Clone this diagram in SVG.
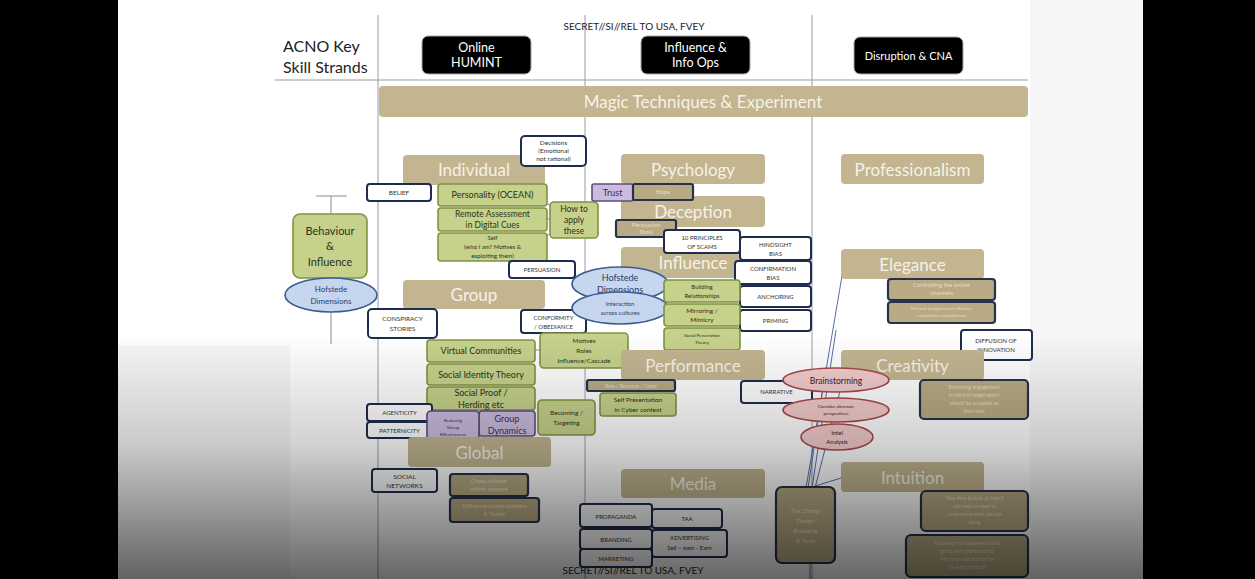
<svg xmlns="http://www.w3.org/2000/svg" width="1255" height="579" viewBox="0 0 1255 579">
<defs>
<linearGradient id="shade" x1="0" y1="335" x2="0" y2="579" gradientUnits="userSpaceOnUse">
<stop offset="0" stop-color="#000" stop-opacity="0"/>
<stop offset="0.45" stop-color="#000" stop-opacity="0.18"/>
<stop offset="1" stop-color="#000" stop-opacity="0.6"/>
</linearGradient>
<style>
text{font-family:Lato,"Liberation Sans",sans-serif;text-anchor:middle;fill:#1c2433}
.hdr rect{fill:#000;stroke:#aaa;stroke-width:1}
.hdr text{fill:#fff;font-size:12.5px}
.tan rect{fill:#c2b590;stroke:none}
.tan text{fill:#f6f2e6;font-size:17px}
.tb rect{fill:#b8aa84;stroke:#26324a;stroke-width:2.2}
.tb text{fill:#e6dcc2;font-size:6px}
.wb rect{fill:#fff;stroke:#1e2d4d;stroke-width:2}
.wb text{font-size:6.5px;fill:#333}
.gb rect{fill:#c6d18c;stroke:#7f9340;stroke-width:1.6}
.gb text{font-size:9px;fill:#2a3318}
.pb rect{fill:#cbbcdf;stroke:#5e4d80;stroke-width:1.6}
.pb text{font-size:9px;fill:#3a2d55}
.be ellipse{fill:#c6d6ef;stroke:#3c5c90;stroke-width:1.6}
.be text{font-size:9px;fill:#2b3c66}
.pe ellipse{fill:#f2cbcb;stroke:#a84848;stroke-width:1.6}
.pe text{font-size:8px;fill:#3a1c1c}
.grid line{stroke:#9a9ab0;stroke-width:1}
.conn line{stroke:#8c8c8c;stroke-width:1}
.conn .bl{stroke:#5a6ea8}
</style>
</defs>
<rect x="0" y="0" width="1255" height="579" fill="#000"/>
<rect x="118" y="0" width="1025" height="579" fill="#f6f6f6"/>
<rect x="118" y="0" width="912" height="345" fill="#fff"/>
<rect x="290" y="0" width="740" height="579" fill="#fff"/>

<g id="grid" class="grid">
<line x1="378" y1="15" x2="378" y2="579"/>
<line x1="585" y1="15" x2="585" y2="579"/>
<line x1="812" y1="15" x2="812" y2="579"/>
<line x1="275" y1="80" x2="1028" y2="80"/>
</g>
<text x="634" y="30" style="font-size:10px;fill:#222">SECRET//SI//REL TO USA, FVEY</text>
<text x="283" y="52" style="font-size:16px;text-anchor:start;fill:#222">ACNO Key</text>
<text x="283" y="73" style="font-size:16px;text-anchor:start;fill:#222">Skill Strands</text>

<g id="h-humint" class="hdr"><rect x="422" y="36" width="109" height="38" rx="6"/><text x="476.5" y="52">Online</text><text x="476.5" y="67">HUMINT</text></g>
<g id="h-influence" class="hdr"><rect x="641" y="36" width="109" height="38" rx="6"/><text x="695.5" y="52">Influence &amp;</text><text x="695.5" y="67">Info Ops</text></g>
<g id="h-disruption" class="hdr"><rect x="854" y="37" width="109" height="37" rx="6"/><text x="908.5" y="60" style="font-size:11px">Disruption &amp; CNA</text></g>

<g id="magic" class="tan"><rect x="379" y="86" width="649" height="31" rx="4"/><text x="703" y="108">Magic Techniques &amp; Experiment</text></g>

<g id="conn" class="conn">
<line x1="316" y1="196" x2="347" y2="196"/>
<line x1="331" y1="196" x2="331" y2="214"/>
<line x1="331" y1="312" x2="331" y2="344"/>
<line x1="540" y1="200" x2="556" y2="208"/>
<line x1="540" y1="219" x2="556" y2="219"/>
<line x1="540" y1="240" x2="556" y2="230"/>
<line x1="520" y1="350" x2="548" y2="350"/>
<line class="bl" x1="843" y1="270" x2="806" y2="488"/>
<line class="bl" x1="836" y1="330" x2="812" y2="488"/>
<line class="bl" x1="826" y1="368" x2="808" y2="488"/>
<line class="bl" x1="846" y1="368" x2="815" y2="488"/>
<line class="bl" x1="812" y1="487" x2="841" y2="478"/>
<line class="bl" x1="810" y1="563" x2="810" y2="579"/>
</g>

<!-- Column 1 -->
<g id="n-individual" class="tan"><rect x="403" y="155" width="142" height="30" rx="4"/><text x="474" y="176">Individual</text></g>
<g id="n-decisions" class="wb"><rect x="521" y="136" width="65" height="30" rx="4"/><text x="553.5" y="145">Decisions</text><text x="553.5" y="153">(Emotional</text><text x="553.5" y="161">not rational)</text></g>
<g id="n-belief" class="wb"><rect x="367" y="184" width="64" height="17" rx="3"/><text x="399" y="195">BELIEF</text></g>
<g id="n-personality" class="gb"><rect x="438" y="184" width="109" height="22" rx="3"/><text x="492.5" y="198">Personality (OCEAN)</text></g>
<g id="n-remote" class="gb"><rect x="438" y="208" width="109" height="23" rx="3"/><text x="492.5" y="217" style="font-size:8.5px">Remote Assessment</text><text x="492.5" y="228" style="font-size:8.5px">in Digital Cues</text></g>
<g id="n-self" class="gb"><rect x="438" y="233" width="109" height="28" rx="3"/><text x="492.5" y="240" style="font-size:6px">Self</text><text x="492.5" y="249" style="font-size:6px">(who I am? Motives &amp;</text><text x="492.5" y="258" style="font-size:6px">exploiting them)</text></g>
<g id="n-howto" class="gb"><rect x="550" y="202" width="48" height="36" rx="4"/><text x="574" y="212" style="font-size:8.5px">How to</text><text x="574" y="223" style="font-size:8.5px">apply</text><text x="574" y="234" style="font-size:8.5px">these</text></g>
<g id="n-persuasion" class="wb"><rect x="509" y="261" width="66" height="17" rx="3"/><text x="542" y="272" style="font-size:6px">PERSUASION</text></g>
<g id="n-behaviour" class="gb"><rect x="293" y="214" width="74" height="64" rx="7"/><text x="330" y="235" style="font-size:11px">Behaviour</text><text x="330" y="250" style="font-size:11px">&amp;</text><text x="330" y="266" style="font-size:11px">Influence</text></g>
<g id="n-hofstede1" class="be"><ellipse cx="331" cy="295" rx="46" ry="17"/><text x="331" y="292" style="font-size:8px">Hofstede</text><text x="331" y="304" style="font-size:8px">Dimensions</text></g>
<g id="n-group" class="tan"><rect x="403" y="280" width="142" height="29" rx="4"/><text x="474" y="301">Group</text></g>
<g id="n-conspiracy" class="wb"><rect x="368" y="309" width="69" height="29" rx="4"/><text x="402.5" y="321">CONSPIRACY</text><text x="402.5" y="331">STORIES</text></g>
<g id="n-conformity" class="wb"><rect x="521" y="310" width="65" height="23" rx="3"/><text x="553.5" y="320" style="font-size:6px">CONFORMITY</text><text x="553.5" y="329" style="font-size:6px">/ OBEDIANCE</text></g>
<g id="n-virtual" class="gb"><rect x="427" y="340" width="108" height="22" rx="3"/><text x="481" y="354">Virtual Communities</text></g>
<g id="n-sit" class="gb"><rect x="427" y="364" width="108" height="21" rx="3"/><text x="481" y="378">Social Identity Theory</text></g>
<g id="n-proof" class="gb"><rect x="427" y="387" width="108" height="23" rx="3"/><text x="481" y="396">Social Proof /</text><text x="481" y="408">Herding etc</text></g>
<g id="n-motives" class="gb"><rect x="540" y="333" width="88" height="35" rx="4"/><text x="584" y="343" style="font-size:6.5px">Motives</text><text x="584" y="353" style="font-size:6.5px">Roles</text><text x="584" y="363" style="font-size:6.5px">Influence/Cascade</text></g>
<g id="n-becoming" class="gb"><rect x="538" y="400" width="57" height="35" rx="4"/><text x="566.5" y="415" style="font-size:6.5px">Becoming /</text><text x="566.5" y="425" style="font-size:6.5px">Targeting</text></g>
<g id="n-agenticity" class="wb"><rect x="367" y="404" width="65" height="17" rx="3"/><text x="399.5" y="415" style="font-size:6px">AGENTICITY</text></g>
<g id="n-patternicity" class="wb"><rect x="367" y="422" width="65" height="16" rx="3"/><text x="399.5" y="433" style="font-size:6px">PATTERNICITY</text></g>
<g id="n-groupdyn" class="pb"><rect x="479" y="411" width="56" height="25" rx="3"/><text x="507" y="422">Group</text><text x="507" y="434">Dynamics</text></g>
<g id="n-reducing" class="pb"><rect x="427" y="411" width="52" height="33" rx="4"/><text x="453" y="422" style="font-size:4.5px">Reducing</text><text x="453" y="429" style="font-size:4.5px">Group</text><text x="453" y="436" style="font-size:4.5px">Effectiveness</text></g>
<g id="n-global" class="tan"><rect x="408" y="437" width="143" height="30" rx="4"/><text x="479.5" y="459">Global</text></g>
<g id="n-social" class="wb"><rect x="372" y="469" width="65" height="23" rx="3"/><text x="404.5" y="479">SOCIAL</text><text x="404.5" y="488">NETWORKS</text></g>
<g id="n-g1" class="tb"><rect x="450" y="474" width="78" height="22" rx="3"/><text x="489" y="483">Cross cultural</text><text x="489" y="491">ethnic nuance</text></g>
<g id="n-g2" class="tb"><rect x="450" y="498" width="89" height="24" rx="3"/><text x="494.5" y="508">Influence across borders</text><text x="494.5" y="516">&amp; States</text></g>

<!-- Column 2 -->
<g id="n-psychology" class="tan"><rect x="621" y="154" width="144" height="30" rx="4"/><text x="693" y="176">Psychology</text></g>
<g id="n-deception" class="tan"><rect x="621" y="196" width="144" height="31" rx="4"/><text x="693" y="218">Deception</text></g>
<g id="n-trust" class="pb"><rect x="592" y="184" width="41" height="17" rx="2"/><text x="612.5" y="196" style="font-size:9px">Trust</text></g>
<g id="n-hope" class="tb"><rect x="633" y="184" width="60" height="16" rx="2"/><text x="663" y="194">Hope</text></g>
<g id="n-ptools" class="tb"><rect x="616" y="220" width="60" height="17" rx="2"/><text x="646" y="227">Persuasion</text><text x="646" y="234">Tools</text></g>
<g id="n-influence" class="tan"><rect x="621" y="247" width="144" height="31" rx="4"/><text x="693" y="269">Influence</text></g>
<g id="n-scams" class="wb"><rect x="664" y="230" width="76" height="23" rx="3"/><text x="702" y="240" style="font-size:6px">10 PRINCIPLES</text><text x="702" y="249" style="font-size:6px">OF SCAMS</text></g>
<g id="n-hindsight" class="wb"><rect x="740" y="237" width="71" height="23" rx="3"/><text x="775.5" y="247" style="font-size:6px">HINDSIGHT</text><text x="775.5" y="256" style="font-size:6px">BIAS</text></g>
<g id="n-confirm" class="wb"><rect x="735" y="261" width="76" height="23" rx="3"/><text x="773" y="271" style="font-size:6px">CONFIRMATION</text><text x="773" y="280" style="font-size:6px">BIAS</text></g>
<g id="n-anchoring" class="wb"><rect x="740" y="286" width="71" height="21" rx="3"/><text x="775.5" y="299" style="font-size:6px">ANCHORING</text></g>
<g id="n-priming" class="wb"><rect x="740" y="310" width="71" height="21" rx="3"/><text x="775.5" y="323" style="font-size:6px">PRIMING</text></g>
<g id="n-hofstede2" class="be"><ellipse cx="620" cy="284" rx="48" ry="17"/><text x="620" y="281">Hofstede</text><text x="620" y="293">Dimensions</text></g>
<g id="n-interaction" class="be"><ellipse cx="620" cy="308" rx="48" ry="16"/><text x="620" y="306" style="font-size:6px">Interaction</text><text x="620" y="315" style="font-size:6px">across cultures</text></g>
<g id="n-building" class="gb"><rect x="664" y="280" width="76" height="22" rx="3"/><text x="702" y="289" style="font-size:6px">Building</text><text x="702" y="298" style="font-size:6px">Relationships</text></g>
<g id="n-mirroring" class="gb"><rect x="664" y="304" width="76" height="22" rx="3"/><text x="702" y="313" style="font-size:6.5px">Mirroring /</text><text x="702" y="322" style="font-size:6.5px">Mimicry</text></g>
<g id="n-spt" class="gb"><rect x="664" y="328" width="76" height="22" rx="3"/><text x="702" y="337" style="font-size:4.5px">Social Penetration</text><text x="702" y="344" style="font-size:4.5px">Theory</text></g>
<g id="n-performance" class="tan"><rect x="621" y="350" width="144" height="30" rx="4"/><text x="693" y="372">Performance</text></g>
<g id="n-p1" class="tb"><rect x="587" y="380" width="88" height="11" rx="2"/><text x="631" y="388" style="font-size:5px">Role / Personas / Cover</text></g>
<g id="n-selfpres" class="gb"><rect x="600" y="393" width="76" height="23" rx="3"/><text x="638" y="402" style="font-size:6.5px">Self Presentation</text><text x="638" y="412" style="font-size:6.5px">in Cyber context</text></g>
<g id="n-narrative" class="wb"><rect x="741" y="381" width="71" height="22" rx="3"/><text x="776.5" y="394" style="font-size:6px">NARRATIVE</text></g>
<g id="n-media" class="tan"><rect x="621" y="469" width="144" height="29" rx="4"/><text x="693" y="490">Media</text></g>
<g id="n-taa" class="wb"><rect x="652" y="509" width="70" height="19" rx="3"/><text x="687" y="521" style="font-size:6px">TAA</text></g>
<g id="n-advertising" class="wb"><rect x="652" y="530" width="75" height="27" rx="3"/><text x="689.5" y="540" style="font-size:6px">ADVERTISING</text><text x="689.5" y="550" style="font-size:6px">Sell – own - Earn</text></g>
<text x="633" y="574" style="font-size:10px;fill:#222">SECRET//SI//REL TO USA, FVEY</text>
<g id="n-propaganda" class="wb"><rect x="580" y="504" width="72" height="23" rx="3"/><text x="616" y="519" style="font-size:6px">PROPAGANDA</text></g>
<g id="n-branding" class="wb"><rect x="580" y="529" width="72" height="20" rx="3"/><text x="616" y="542" style="font-size:6px">BRANDING</text></g>
<g id="n-marketing" class="wb"><rect x="580" y="549" width="72" height="18" rx="3"/><text x="616" y="561" style="font-size:6px">MARKETING</text></g>

<!-- Column 3 -->
<g id="n-professionalism" class="tan"><rect x="841" y="154" width="143" height="30" rx="4"/><text x="912.5" y="176">Professionalism</text></g>
<g id="n-elegance" class="tan"><rect x="841" y="249" width="143" height="30" rx="4"/><text x="912.5" y="271">Elegance</text></g>
<g id="n-e1" class="tb"><rect x="888" y="279" width="107" height="21" rx="3"/><text x="941.5" y="287">Controlling  the online</text><text x="941.5" y="295">channels</text></g>
<g id="n-e2" class="tb"><rect x="888" y="302" width="107" height="21" rx="3"/><text x="941.5" y="310" style="font-size:4.5px">Minimal footprint and effective</text><text x="941.5" y="317" style="font-size:4.5px">exploitation of platforms</text></g>
<g id="n-diffusion" class="wb"><rect x="961" y="330" width="71" height="30" rx="3"/><text x="996" y="343" style="font-size:6px">DIFFUSION OF</text><text x="996" y="352" style="font-size:6px">INNOVATION</text></g>
<g id="n-creativity" class="tan"><rect x="841" y="350" width="143" height="30" rx="4"/><text x="912.5" y="372">Creativity</text></g>
<g id="n-c1" class="tb"><rect x="920" y="380" width="108" height="39" rx="4"/><text x="974" y="389" style="font-size:5px">Enhancing engagement</text><text x="974" y="397" style="font-size:5px">in mind of target which</text><text x="974" y="405" style="font-size:5px">should be accepted as</text><text x="974" y="413" style="font-size:5px">their own</text></g>
<g id="n-brainstorming" class="pe"><ellipse cx="836" cy="380" rx="53" ry="12"/><text x="836" y="384" style="font-size:8.5px">Brainstorming</text></g>
<g id="n-consider" class="pe"><ellipse cx="836" cy="410" rx="53" ry="12"/><text x="836" y="408" style="font-size:4.5px">Consider alternate</text><text x="836" y="415" style="font-size:4.5px">perspectives</text></g>
<g id="n-intel" class="pe"><ellipse cx="837" cy="437" rx="36" ry="13"/><text x="837" y="435" style="font-size:6px">Intel</text><text x="837" y="444" style="font-size:6px">Analysis</text></g>
<g id="n-intuition" class="tan"><rect x="841" y="462" width="143" height="30" rx="4"/><text x="912.5" y="484">Intuition</text></g>
<g id="n-doing" class="tb"><rect x="776" y="487" width="59" height="76" rx="6"/><text x="805.5" y="513">The 'Doing'</text><text x="805.5" y="523">Design</text><text x="805.5" y="533">Browsing</text><text x="805.5" y="543">&amp; Trust</text></g>
<g id="n-i1" class="tb"><rect x="921" y="491" width="107" height="40" rx="5"/><text x="974.5" y="500" style="font-size:5px">Take time to look at how it</text><text x="974.5" y="508" style="font-size:5px">can help us need to</text><text x="974.5" y="516" style="font-size:5px">understand what you are</text><text x="974.5" y="524" style="font-size:5px">doing</text></g>
<g id="n-i2" class="tb"><rect x="906" y="535" width="122" height="42" rx="5"/><text x="967" y="545" style="font-size:5px">Knowing from experience and</text><text x="967" y="553" style="font-size:5px">going with preference to</text><text x="967" y="561" style="font-size:5px">inform on risk but not be</text><text x="967" y="569" style="font-size:5px">slave to protocols</text></g>

<rect x="118" y="0" width="1025" height="579" fill="url(#shade)" pointer-events="none"/>
</svg>
